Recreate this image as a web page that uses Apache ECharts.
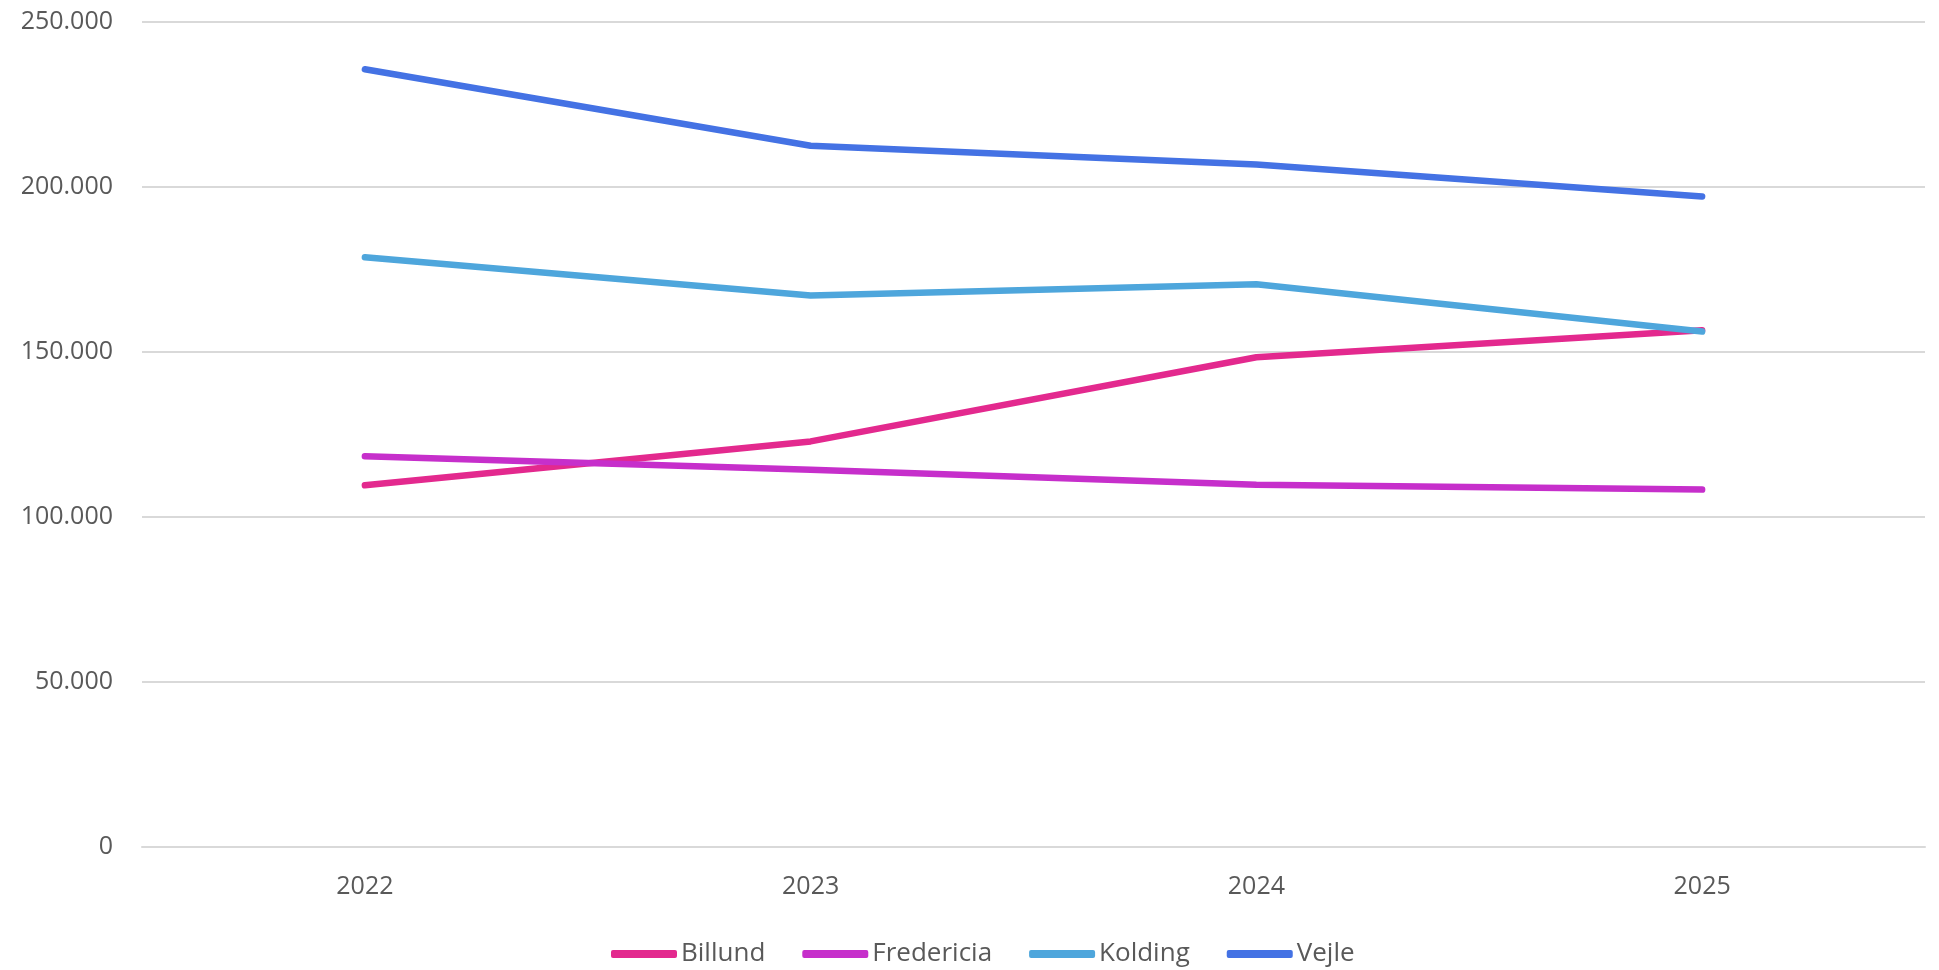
<!DOCTYPE html>
<html>
<head>
<meta charset="utf-8">
<script src="https://cdn.jsdelivr.net/npm/echarts@6/dist/echarts.min.js"></script>
<style>
html,body{margin:0;padding:0;background:#fff;}
#c{width:1939px;height:970px;}
</style>
</head>
<body>
<div id="c"></div>
<script>
const years = ['2022', '2023', '2024', '2025'];
const billund = [109600, 122900, 148400, 156600];
const fredericia = [118400, 114300, 109800, 108300];
const kolding = [178700, 167100, 170500, 156200];
const vejle = [235700, 212500, 206800, 197100];
const seriesNames = ['Billund', 'Fredericia', 'Kolding', 'Vejle'];
const seriesColors = ['#E3298E', '#C62FCB', '#4EA6DC', '#4472E4'];
const seriesData = [billund, fredericia, kolding, vejle];

const chart = echarts.init(document.getElementById('c'));
const fmt = v => v === 0 ? '0' : String(v).replace(/\B(?=(\d{3})+(?!\d))/g, '.');

chart.setOption({
  animation: false,
  backgroundColor: '#fff',
  textStyle: { fontFamily: '"Open Sans", "Noto Sans", sans-serif' },
  grid: { left: 142, right: 14, top: 22, bottom: 123, containLabel: false },
  legend: {
    left: 606, top: 936,
    itemWidth: 66, itemHeight: 8, itemGap: 37,
    icon: 'roundRect',
    textStyle: { color: '#595959', fontSize: 26, fontFamily: '"Open Sans", sans-serif', padding: [0, 0, 0, -1] },
    data: seriesNames
  },
  xAxis: {
    type: 'category',
    data: years,
    boundaryGap: true,
    axisLine: { lineStyle: { color: '#d9d9d9', width: 2 } },
    axisTick: { show: false },
    axisLabel: { color: '#595959', fontSize: 25, margin: 27 }
  },
  yAxis: {
    type: 'value',
    min: 0, max: 250000, interval: 50000,
    axisLine: { show: false },
    axisTick: { show: false },
    splitLine: { lineStyle: { color: '#d9d9d9', width: 2 } },
    axisLabel: { color: '#595959', fontSize: 25, margin: 29, formatter: fmt }
  },
  series: seriesNames.map((n, i) => ({
    name: n,
    type: 'line',
    data: seriesData[i],
    showSymbol: false,
    symbol: 'none',
    color: seriesColors[i],
    lineStyle: { width: 6.5, color: seriesColors[i], cap: 'round', join: 'round' }
  }))
});
</script>
</body>
</html>
